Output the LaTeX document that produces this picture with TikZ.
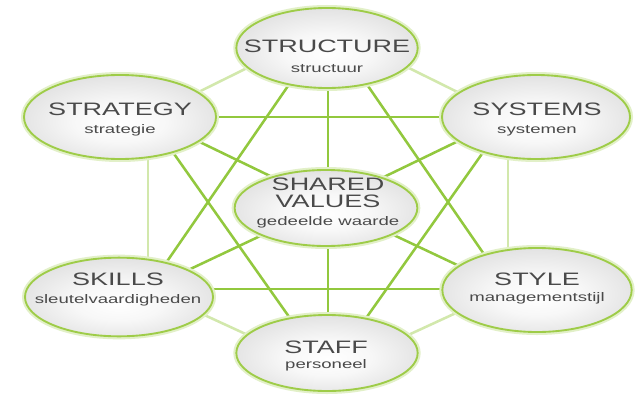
\documentclass[tikz,border=0pt]{standalone}
\usepackage{fontspec}
\newfontfamily\widesans{Liberation Sans}[FakeStretch=1.5]
\usepackage{tikz}
\usetikzlibrary{
  shapes.geometric
}

\definecolor{leaf}{RGB}{146,200,62}
\definecolor{paleleaf}{RGB}{210,232,172}
\definecolor{rim}{RGB}{158,204,72}
\definecolor{ink}{RGB}{74,74,74}

% weiches Licht in den Ellipsen
\pgfdeclareradialshading{pod}{\pgfpoint{0bp}{-4bp}}{
  color(0bp)=(white);
  color(12bp)=(black!3);
  color(32bp)=(black!14);
  color(50bp)=(black!27)
}

\begin{document}
\begin{tikzpicture}[
          x=0.75pt, y=-0.75pt,
          chord/.style={
              draw=leaf,
              line width=1.9pt
            },ring/.style={
              draw=paleleaf,
              line width=1.9pt
            },disc/.style={
              ellipse,
              inner sep=0pt,
              shading=pod,
              draw=rim,
              line width=1.4pt,
              preaction={draw=rim!30, line width=4.5pt}
            },title/.style={
              font=\widesans\fontsize{13.5}{14}\selectfont,
              text=ink,
              anchor=base,
              inner sep=0pt
            },sub/.style={
              font=\widesans\fontsize{9.3}{10}\selectfont,
              text=ink,
              anchor=base,
              inner sep=0pt
            }
        ]
        % Hintergrund
        \fill[white] (0,0) rectangle (641,403);
        \useasboundingbox (0,0) rectangle (641,403);

        % Knotenpunkte der Linien
        \coordinate (structure hub) at (328,28);
        \coordinate (strategy hub) at (148,117);
        \coordinate (systems hub) at (508,117);
        \coordinate (shared hub) at (328,204);
        \coordinate (skills hub) at (148,289);
        \coordinate (style hub) at (508,289);
        \coordinate (staff hub) at (328,372);

        % äußerer Ring
        \foreach \a/\b in {structure/strategy,structure/systems,strategy/skills,
            systems/style,skills/staff,style/staff}
          \draw[ring] (\a\space hub) -- (\b\space hub);
        % Speichen zur Mitte
        \foreach \a in {structure,strategy,systems,skills,style,staff}
          \draw[chord] (shared hub) -- (\a\space hub);
        % Sehnen
        \foreach \a/\b in {strategy/systems,skills/style,structure/skills,
            structure/style,strategy/staff,systems/staff}
          \draw[chord] (\a\space hub) -- (\b\space hub);

        % Ellipsen
        \node[disc, minimum width=136pt, minimum height=60pt] (structure) at (327,48) {};
        \node[disc, minimum width=144pt, minimum height=63pt] (strategy) at (120,117) {};
        \node[disc, minimum width=141pt, minimum height=63pt] (systems) at (536,117) {};
        \node[disc, minimum width=137pt, minimum height=57pt] (shared) at (326,208) {};
        \node[disc, minimum width=141pt, minimum height=59pt] (skills) at (119,297) {};
        \node[disc, minimum width=142pt, minimum height=63pt] (style) at (537,290) {};
        \node[disc, minimum width=136pt, minimum height=57pt] (staff) at (327,353) {};

        % Beschriftungen
        \node[title] (structure title) at (327,53) {STRUCTURE};
        \node[sub] (structure sub) at (327,73) {structuur};
        \node[title] (strategy title) at (120,115) {STRATEGY};
        \node[sub] (strategy sub) at (120,133) {strategie};
        \node[title] (systems title) at (537,115) {SYSTEMS};
        \node[sub] (systems sub) at (537,133) {systemen};
        \node[title] (shared title) at (328,190) {SHARED};
        \node[title] (values title) at (328,207) {VALUES};
        \node[sub] (shared sub) at (328,225) {gedeelde waarde};
        \node[title] (skills title) at (118,285) {SKILLS};
        \node[sub] (skills sub) at (118,303) {sleutelvaardigheden};
        \node[title] (style title) at (537,285) {STYLE};
        \node[sub] (style sub) at (537,301) {managementstijl};
        \node[title] (staff title) at (326,353) {STAFF};
        \node[sub] (staff sub) at (326,368) {personeel};

      \end{tikzpicture}
\end{document}
